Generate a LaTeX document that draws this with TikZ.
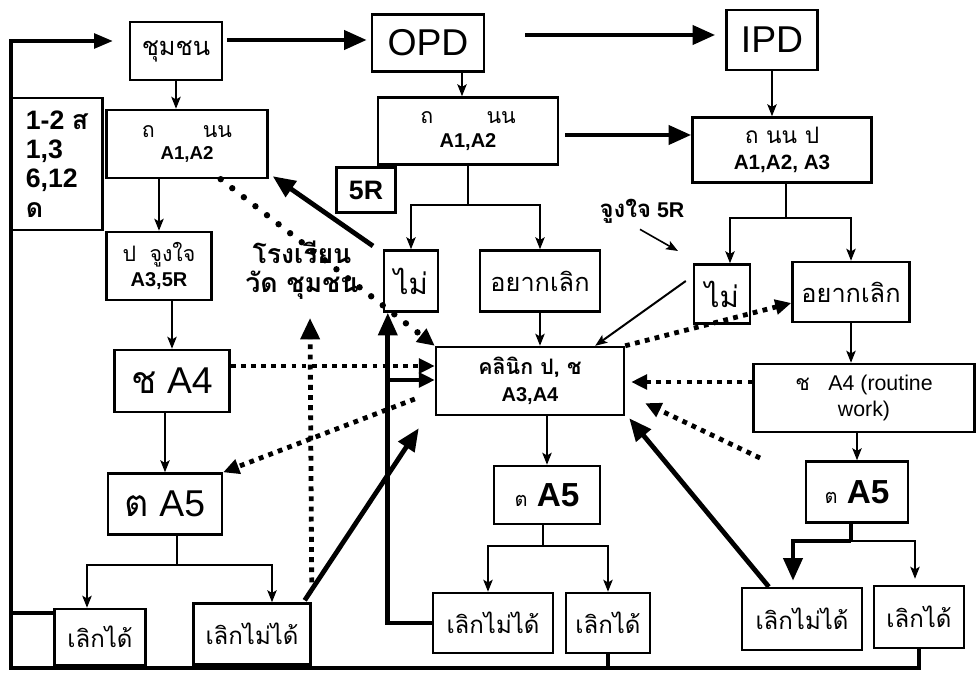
\documentclass[tikz,border=0pt]{standalone}
\usepackage{fontspec}
\setmainfont{Liberation Sans}
\newfontfamily\thaif[Script=Thai]{Loma}
\usetikzlibrary{arrows.meta,calc}
\newcommand\fz[2]{\fontsize{#1}{#2}\selectfont}
\begin{document}
\begin{tikzpicture}[x=0.75pt,y=-0.75pt,
  box/.style={draw, line width=1.8pt, inner sep=0pt, align=center},
  sz/.style 2 args={minimum width=#1*0.75pt, minimum height=#2*0.75pt},
  thinln/.style={line width=1.5pt},
  thinar/.style={line width=1.5pt, -{Stealth[length=9pt,width=7pt,inset=2pt]}},
  thickln/.style={line width=3.6pt},
  bigar/.style={line width=3.6pt, -{Triangle[length=17pt,width=14pt]}},
  medar/.style={line width=3pt, -{Triangle[length=12pt,width=11pt]}},
  rdots/.style={line width=4.8pt, line cap=round, dash pattern=on 0pt off 11pt, -{Triangle[length=13pt,width=12pt]}},
  sqdots/.style={line width=3.6pt, dash pattern=on 3.6pt off 4pt, -{Triangle[length=12pt,width=11pt]}},
  loopln/.style={line width=2.6pt}
]
\useasboundingbox (0,0) rectangle (976,673);
% nodes
\node[box,sz={92}{58},font=\thaif\fz{19pt}{21pt}] (chum) at (176,51) {ชุมชน};
\node[box,sz={112}{57},font=\fz{28pt}{30pt}] (opd) at (428,43) {OPD};
\node[box,sz={91}{60},font=\fz{28pt}{30pt}] (ipd) at (772,40) {IPD};
\node[box,sz={161}{68},font=\bfseries\fz{14pt}{17pt}] (tnL) at (187,144) {{\thaif\mdseries\fz{16pt}{17pt}ถ\hspace{36pt}นน}\\A1,A2};
\node[box,sz={91}{132},align=left,font=\bfseries\fz{20pt}{22pt}] (side) at (57,164) {1-2 {\thaif ส}\\1,3\\6,12\\{\thaif ด}};
\node[box,sz={180}{67},font=\bfseries\fz{15pt}{18pt}] (tnM) at (468,131) {{\thaif\mdseries\fz{16pt}{18pt}ถ\hspace{40pt}นน}\\A1,A2};
\node[box,sz={179}{65},font=\bfseries\fz{15.5pt}{19pt}] (tnR) at (782,150) {{\thaif\mdseries\fz{17pt}{19pt}ถ นน ป}\\A1,A2, A3};
\node[box,sz={59}{45},font=\bfseries\fz{20pt}{22pt}] (r5) at (366,190) {5R};
\node[box,sz={105}{68},font=\bfseries\fz{15pt}{19pt}] (pjL) at (159,266) {{\thaif\mdseries\fz{16pt}{19pt}ป\hspace{10pt}จูงใจ}\\A3,5R};
\node[box,sz={54}{61},font=\thaif\fz{22pt}{24pt}] (maiM) at (411,281) {ไม่};
\node[box,sz={120}{61},font=\thaif\fz{19pt}{21pt}] (yakM) at (540,281) {อยากเลิก};
\node[box,sz={56}{59},font=\thaif\fz{22pt}{24pt}] (maiR) at (722,294) {ไม่};
\node[box,sz={117}{60},font=\thaif\fz{19pt}{21pt}] (yakR) at (851,292) {อยากเลิก};
\node[box,sz={115}{62},font=\fz{28pt}{30pt}] (chL) at (172,381) {{\thaif ช} A4};
\node[box,sz={188}{68},font=\bfseries\fz{15pt}{20pt}] (clinic) at (530,381) {{\thaif\fz{16pt}{20pt}คลินิก ป, ช}\\A3,A4};
\node[box,sz={221}{68},font=\fz{16pt}{20pt}] (chR) at (864,398) {{\thaif ช}\hspace{14pt}A4 (routine\\work)};
\node[box,sz={114}{61},font=\fz{28pt}{30pt}] (tL) at (165,504) {{\thaif ต} A5};
\node[box,sz={106}{58},font=\bfseries\fz{25pt}{27pt}] (tM) at (547,495) {{\thaif\mdseries\fz{15pt}{17pt}ต} A5};
\node[box,sz={102}{61},font=\bfseries\fz{25pt}{27pt}] (tR) at (857,492) {{\thaif\mdseries\fz{15pt}{17pt}ต} A5};
\node[box,sz={91}{56},font=\thaif\fz{18pt}{20pt}] (lgL) at (100,637) {เลิกได้};
\node[box,sz={117}{61},font=\thaif\fz{18pt}{20pt}] (lnL) at (252,634) {เลิกไม่ได้};
\node[box,sz={120}{60},font=\thaif\fz{18pt}{20pt}] (lnM) at (493,623) {เลิกไม่ได้};
\node[box,sz={84}{60},font=\thaif\fz{18pt}{20pt}] (lgM) at (608,623) {เลิกได้};
\node[box,sz={120}{62},font=\thaif\fz{18pt}{20pt}] (lnR) at (802,619) {เลิกไม่ได้};
\node[box,sz={90}{62},font=\thaif\fz{18pt}{20pt}] (lgR) at (919,617) {เลิกได้};
\node[align=center,inner sep=0pt,font=\thaif\bfseries\fz{20pt}{22pt}] (school) at (302,270) {โรงเรียน\\วัด ชุมชน};
\node[inner sep=0pt,font=\bfseries\fz{16pt}{18pt}] (mot) at (642,211) {{\thaif\fz{18pt}{20pt}จูงใจ} 5R};
% helper coordinates
\coordinate (bl) at (11,668);
\coordinate (l613) at (11,613);
\coordinate (y366) at (0,366);
\coordinate (y382) at (0,382);
\coordinate (v1) at (389,380);
\coordinate (vt) at (310,318);
\coordinate (s1) at (373,246);
\coordinate (d1) at (760,458);
\coordinate (motE) at (678,251);
\coordinate (o1) at ($(opd.south)+(34,0)$);
\coordinate (jM) at (468,205);
\coordinate (jR) at (786,218);
\coordinate (jL) at (177,565);
\coordinate (jMM) at (543,546);
\coordinate (jR5) at (851,541);
% feedback loop
\draw[loopln,-{Triangle[length=14pt,width=11pt]}] (lgR.south) |- (bl) |- ($(chum.west)+(-16,-10)$);
\draw[loopln] (lgM.south) -- (lgM.south |- bl);
\draw[loopln] (l613) -- (l613 -| lgL.west);
% heavy arrows at top
\draw[bigar] ($(chum.east)+(4,-11)$) -- ($(opd.west)+(-4,-3)$);
\draw[bigar] ($(opd.east)+(40,-8)$) -- ($(ipd.west)+(-10,-5)$);
\draw[bigar] ($(tnM.east)+(6,4)$) -- ($(tnR.west)+(0,-15)$);
% thin flow arrows
\draw[thinar] (chum.south) -- (chum.south |- tnL.north);
\draw[thinar] (o1) -- (o1 |- tnM.north);
\draw[thinar] (ipd.south) -- (ipd.south |- tnR.north);
\draw[thinar] (pjL.north |- tnL.south) -- (pjL.north);
\draw[thinar] (chL.north |- pjL.south) -- (chL.north);
\draw[thinar] (tL.north |- chL.south) -- (tL.north);
\draw[thinar] (yakM.south) -- (yakM.south |- clinic.north);
\draw[thinar] (tM.north |- clinic.south) -- (tM.north);
\draw[thinar] (yakR.south) -- (yakR.south |- chR.north);
\draw[thinar] (tR.north |- chR.south) -- (tR.north);
% splits
\draw[thinln] (tnM.south) -- (jM);
\draw[thinar] (jM) -| (maiM.north);
\draw[thinar] (jM) -| (yakM.north);
\draw[thinln] (jR |- tnR.south) -- (jR);
\draw[thinar] (jR) -| ($(maiR.north)+(8,0)$);
\draw[thinar] (jR) -| (yakR.north);
\draw[thinln] (jL |- tL.south) -- (jL);
\draw[thinar] (jL) -| ($(lgL.north)+(-13,0)$);
\draw[thinar] (jL) -| ($(lnL.north)+(20,0)$);
\draw[thinln] (jMM |- tM.south) -- (jMM);
\draw[thinar] (jMM) -| ($(lnM.north)+(-5,0)$);
\draw[thinar] (jMM) -| (lgM.north);
\draw[thickln] (jR5 |- tR.south) -- (jR5);
\draw[bigar] (jR5) -| ($(lnR.north)+(-9,-6)$);
\draw[thinar] (jR5) -| ($(lgR.north)+(-4,-6)$);
\draw[thinar] ($(maiR.west)+(-7,-13)$) -- ($(clinic.north east)+(-30,0)$);
\draw[thinar,line width=1.2pt] ($(mot.south)+(-2,6)$) -- (motE);
% thick feedback arrows
\draw[bigar] (lnM.west) -| ($(maiM.south west)+(5,0)$);
\draw[medar] (v1) -- (v1 -| clinic.west);
\draw[bigar] ($(lnL.north east)+(-7,-2)$) -- ($(clinic.south west)+(-16,12)$);
\draw[bigar] ($(lnR.north west)+(28,0)$) -- ($(clinic.south east)+(4,2)$);
\draw[bigar] (s1) -- ($(tnL.south east)+(4,-3)$);
% dotted arrows
\draw[rdots] ($(tnL.south east)+(-48,0)$) -- (clinic.north west);
\draw[sqdots,-{Triangle[length=16pt,width=14pt]}] ($(lnL.north east)+(0,-20)$) -- (vt);
\draw[sqdots] (chL.east |- y366) -- (clinic.west |- y366);
\draw[sqdots] ($(clinic.west)+(-20,18)$) -- (tL.north east);
\draw[sqdots] (clinic.north east) -- ($(yakR.west)+(0,11)$);
\draw[sqdots] (chR.west |- y382) -- ($(clinic.east |- y382)+(6,0)$);
\draw[sqdots] (d1) -- ($(clinic.south east)+(20,-13)$);
\end{tikzpicture}
\end{document}
